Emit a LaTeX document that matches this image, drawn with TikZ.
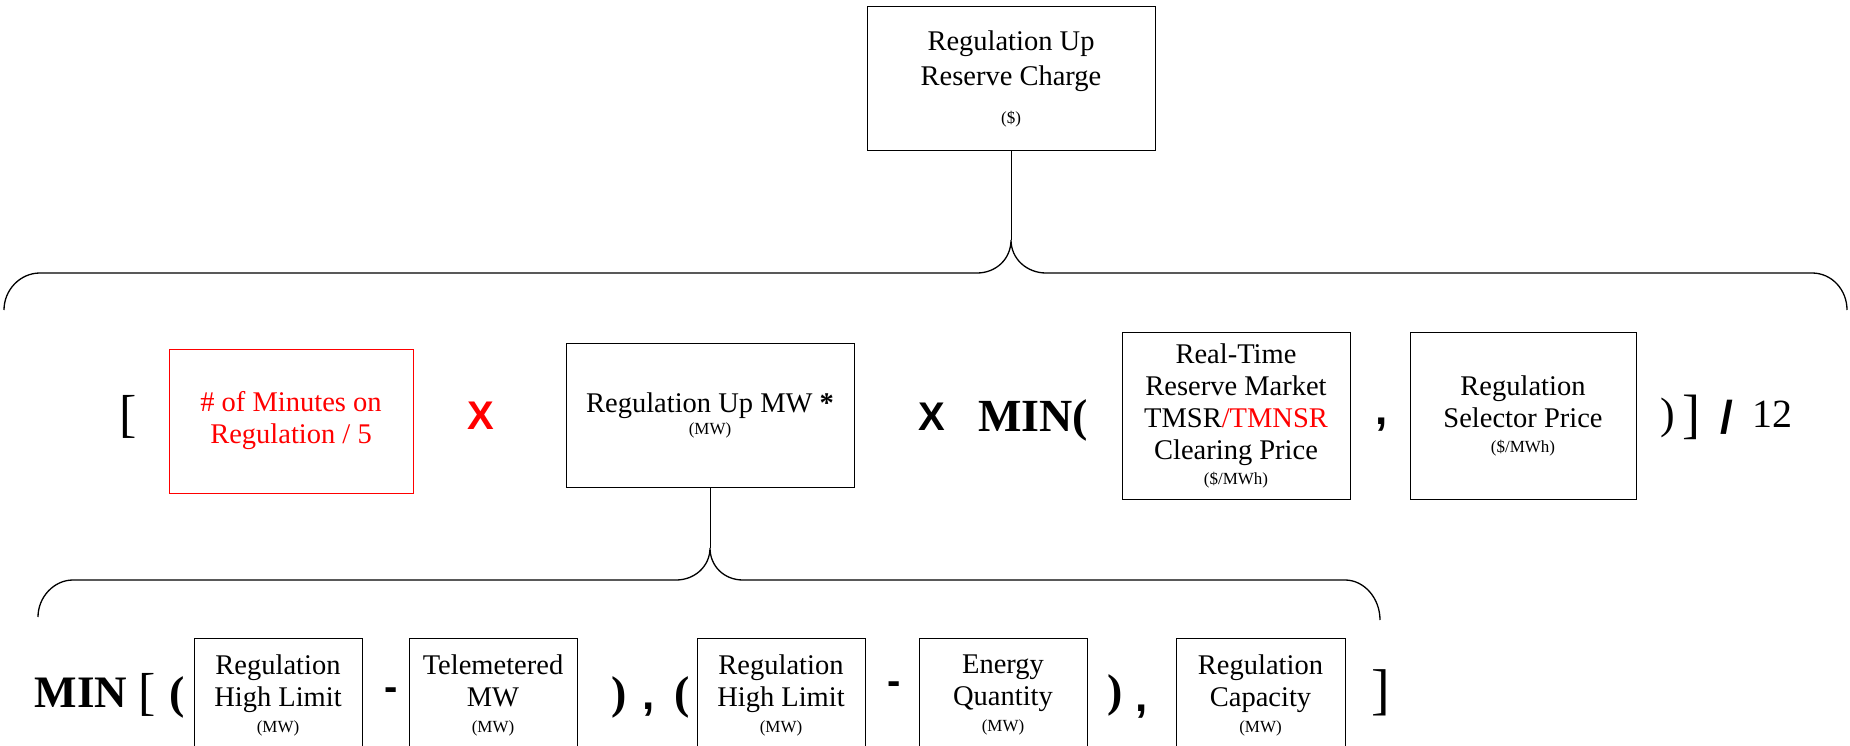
\documentclass[tikz,border=0pt]{standalone}
\usepackage{fontspec}
\setmainfont{Liberation Serif}
\newfontfamily\opsans{Liberation Sans}
\newcommand{\txtmain}{\fontsize{28.5}{32}\selectfont}
\newcommand{\txtunit}{\fontsize{17}{20}\selectfont}
\tikzset{
  box/.style={draw, line width=1pt, inner sep=0pt, outer sep=0pt, align=center, font=\txtmain},
  redbox/.style={box, draw=red, text=red},
  lowbox/.style={box, minimum width=168pt, minimum height=114pt},
  op/.style={inner sep=0pt, outer sep=0pt},
  serifop/.style={op, font=\fontsize{#1}{#1}\selectfont},
  boldop/.style={op, font=\fontsize{#1}{#1}\selectfont\bfseries},
  sansop/.style={op, font=\fontsize{#1}{#1}\selectfont\opsans\bfseries},
  brace/.style={line width=1.3pt},
}
\begin{document}
\begin{tikzpicture}[x=1pt,y=-1pt]
        \useasboundingbox (0,0) rectangle (1850,746);
        % top
        \node[box, minimum width=288pt, minimum height=144pt] (charge) at (1011,79) {Regulation Up\\[3pt]Reserve Charge\\[6pt]{\txtunit(\$)}};
        \coordinate (topcusp) at (1011,240);
        \draw[brace] (4,310) .. controls (4,290) and (20,273) .. (40,273) -- (977,273)
            .. controls (996,273) and (1011,259) .. (topcusp)
            .. controls (1011,259) and (1027,273) .. (1046,273) -- (1812,273)
            .. controls (1832,273) and (1847,290) .. (1847,310);
        \draw[line width=1pt] (charge.south) -- (topcusp);
        % middle row
        \node[serifop=52] (lbrackA) at (128,417) {[};
        \node[redbox, minimum width=244pt, minimum height=144pt] (minutes) at (291,421) {\# of Minutes on\\Regulation / 5};
        \node[sansop=40, text=red] (timesA) at (481,416) {X};
        \node[box, minimum width=288pt, minimum height=144pt] (upmw) at (710,415) {Regulation Up MW \textbf{*}\\[-10pt]{\txtunit(MW)}};
        \node[sansop=40] (timesB) at (932,417) {X};
        \node[boldop=46] (minA) at (1033,420) {MIN(};
        \node[box, minimum width=228pt, minimum height=167pt] (tmsr) at (1236,415.5) {Real-Time\\Reserve Market\\TMSR\textcolor{red}{/TMNSR}\\Clearing Price\\[-7pt]{\txtunit(\$/MWh)}};
        \node[sansop=44] (commaA) at (1382,425) {,};
        \node[box, minimum width=226pt, minimum height=167pt] (selector) at (1523,415.5) {Regulation\\Selector Price\\[-7pt]{\txtunit(\$/MWh)}};
        \node[serifop=44] (rparA) at (1668,418) {)};
        \node[serifop=54] (rbrackA) at (1691,417) {]};
        \node[sansop=46] (slash) at (1727,417) {/};
        \node[serifop=40] (twelve) at (1772,414) {12};
        % lower brace
        \coordinate (lowcusp) at (710,548);
        \draw[brace] (38,617) .. controls (38,597) and (54,580) .. (73,580) -- (676,580)
            .. controls (695,580) and (710,566) .. (lowcusp)
            .. controls (710,566) and (724,580) .. (743,580) -- (1345,580)
            .. controls (1364,580) and (1380,598) .. (1380,620);
        \draw[line width=1pt] (upmw.south) -- (lowcusp);
        % bottom row
        \node[boldop=45] (minB) at (81,693) {MIN};
        \node[serifop=52] (lbrackB) at (147,695) {[};
        \node[boldop=46] (lparB) at (177,697) {(};
        \node[lowbox] (highlimA) at (278,695) {Regulation\\High Limit\\[-6pt]{\txtunit(MW)}};
        \node[sansop=40] (dashA) at (391,694) {-};
        \node[lowbox] (telem) at (493,695) {Telemetered\\MW\\[-6pt]{\txtunit(MW)}};
        \node[boldop=46] (rparB) at (619,697) {)};
        \node[sansop=44] (commaB) at (649,710) {,};
        \node[boldop=46] (lparC) at (682,697) {(};
        \node[lowbox] (highlimB) at (781,695) {Regulation\\High Limit\\[-6pt]{\txtunit(MW)}};
        \node[sansop=40] (dashB) at (894,688) {-};
        \node[lowbox] (energy) at (1003,695) {Energy\\Quantity\\[-6pt]{\txtunit(MW)}};
        \node[boldop=46] (rparC) at (1115,695) {)};
        \node[sansop=44] (commaC) at (1142,712) {,};
        \node[lowbox, minimum width=169pt] (capacity) at (1260.5,695) {Regulation\\Capacity\\[-6pt]{\txtunit(MW)}};
        \node[serifop=56] (rbrackB) at (1381,693) {]};
\end{tikzpicture}
\end{document}
